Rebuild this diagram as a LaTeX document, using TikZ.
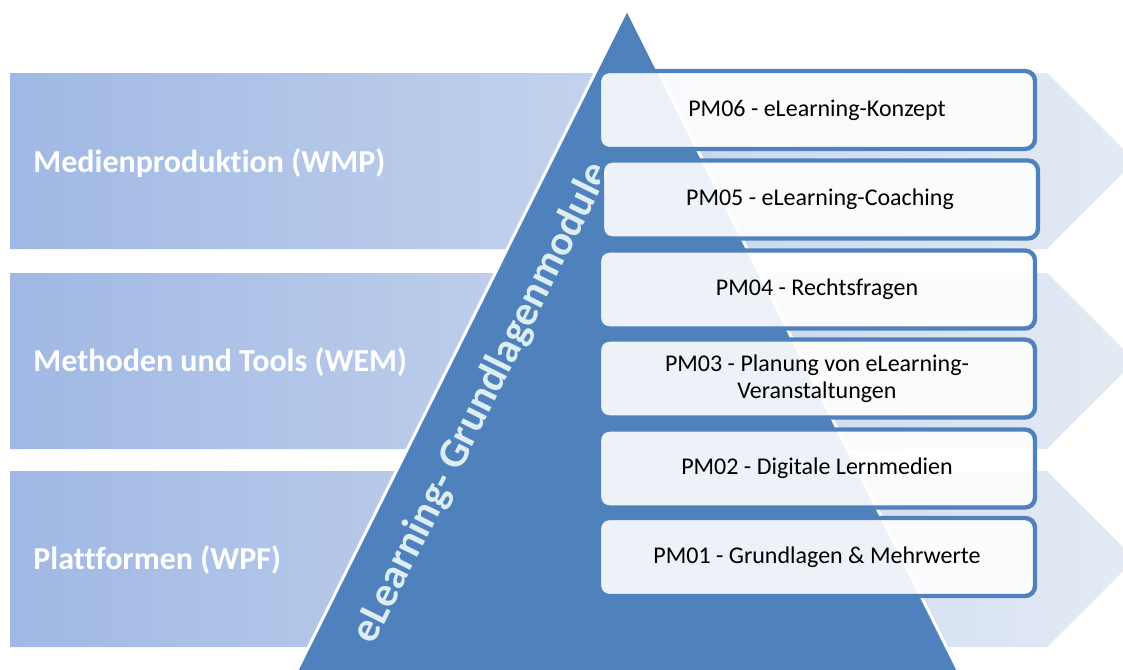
\documentclass[tikz,border=0pt]{standalone}
\usepackage{fontspec}
\setmainfont{Carlito}[Ligatures=NoCommon]
\usepackage{xcolor}
\definecolor{triblue}{RGB}{79,129,189}
\definecolor{bandleft}{RGB}{160,184,228}
\definecolor{bandright}{RGB}{228,235,244}
\definecolor{tritext}{RGB}{220,238,244}
\tikzset{
    band/.style={left color=bandleft, right color=bandright},
    bandtext/.style={anchor=west, inner sep=0pt, text=white, font=\fontsize{16}{19}\selectfont\bfseries},
    pmbox/.style={draw=triblue, line width=2.2pt, fill=white, fill opacity=0.9, text opacity=1,
        rounded corners=5pt, minimum width=218pt, minimum height=39pt, inner sep=0pt,
        align=center, font=\fontsize{12}{13.5}\selectfont}
}

\begin{document}
\begin{tikzpicture}[x=0.5pt, y=-0.5pt]
                        \clip (0, 0) rectangle (1123, 669);
                        \foreach \b in {73, 273, 471} {
                            \path[band] (10, \b) -- (1047, \b) -- (1135, \b + 88) -- (1047, \b + 176) -- (10, \b + 176) -- cycle;
                        }
                        \coordinate (apex) at (627, 9);
                        \coordinate (baseleft) at (292, 680);
                        \coordinate (baseright) at (963, 680);
                        \draw[white, line width=1.5pt, fill=triblue] (apex) -- (baseright) -- (baseleft) -- cycle;
                        \node[rotate=63.5, text=tritext, font=\fontsize{21}{25}\selectfont\bfseries] (pyramid) at (482, 403) {eLearning- Grundlagenmodule};
                        \node[bandtext] (wmp) at (33, 163) {Medienproduktion (WMP)};
                        \node[bandtext] (wem) at (33, 362) {Methoden und Tools (WEM)};
                        \node[bandtext] (wpf) at (33, 560) {Plattformen (WPF)};
                        \node[pmbox] (pm6) at (817, 110) {PM06 - eLearning-Konzept};
                        \node[pmbox] (pm5) at (820, 199.5) {PM05 - eLearning-Coaching};
                        \node[pmbox] (pm4) at (817, 289.5) {PM04 - Rechtsfragen};
                        \node[pmbox] (pm3) at (817, 378.5) {PM03 - Planung von eLearning-\\Veranstaltungen};
                        \node[pmbox] (pm2) at (817, 468.5) {PM02 - Digitale Lernmedien};
                        \node[pmbox] (pm1) at (817, 557) {PM01 - Grundlagen \& Mehrwerte};
                    \end{tikzpicture}
\end{document}
